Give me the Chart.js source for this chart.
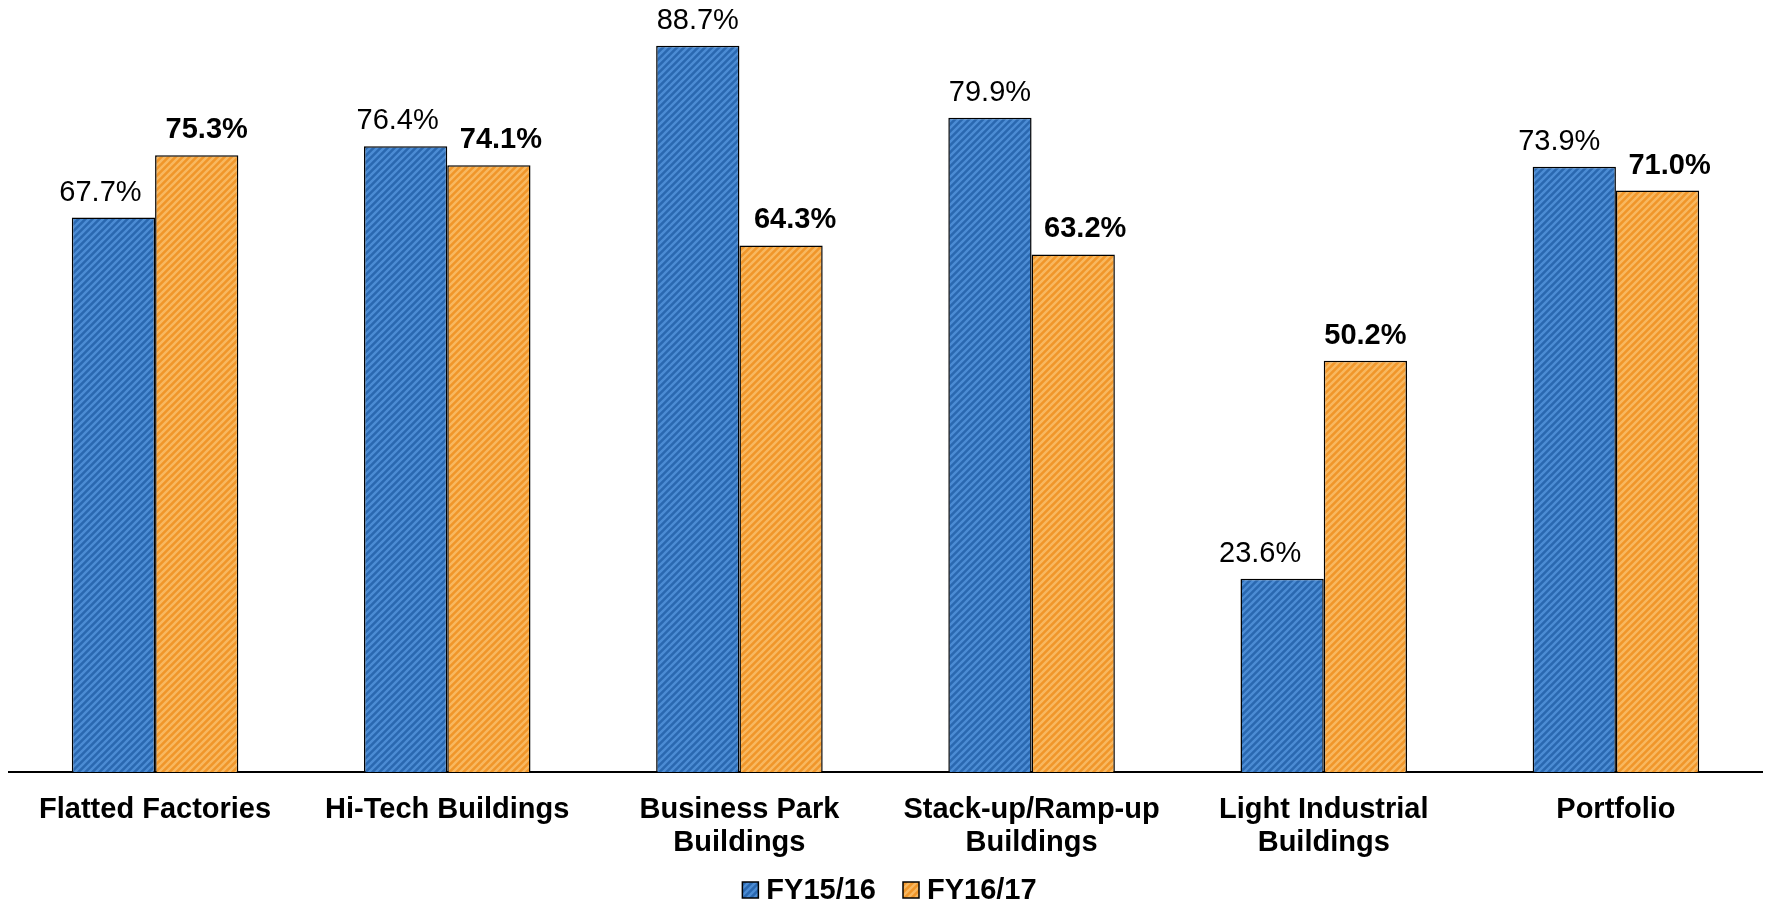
<!DOCTYPE html>
<html>
<head>
<meta charset="utf-8">
<script src="https://cdn.jsdelivr.net/npm/chart.js@4.4.1/dist/chart.umd.min.js"></script>
<style>
  html, body { margin: 0; padding: 0; background: #fff; }
  #wrap { width: 1767px; height: 907px; }
</style>
</head>
<body>
<div id="wrap"><canvas id="myChart"></canvas></div>

<script>
	// categories and values
	var categories = [
	    ["Flatted Factories"],
	    ["Hi-Tech Buildings"],
	    ["Business Park", "Buildings"],
	    ["Stack-up/Ramp-up", "Buildings"],
	    ["Light Industrial", "Buildings"],
	    ["Portfolio"]
	];
	var fy1516 = [67.7, 76.4, 88.7, 79.9, 23.6, 73.9];
	var fy1617 = [75.3, 74.1, 64.3, 63.2, 50.2, 71.0];
	var seriesNames = ["FY15/16", "FY16/17"];

	var FONT = "'Liberation Sans', Arial, sans-serif";

	// the original nudges some value labels sideways (px)
	var labelShift = [
	    [-13, -8, 0, 0, -22, -15],
	    [10, 12, 14, 12, 0, 12]
	];

	// diagonal striped fill like the original
	function stripes(base, line) {
	    var s = 7;
	    var c = document.createElement('canvas');
	    c.width = s; c.height = s;
	    var g = c.getContext('2d');
	    g.fillStyle = base;
	    g.fillRect(0, 0, s, s);
	    g.strokeStyle = line;
	    g.lineWidth = 2.4;
	    g.beginPath();
	    g.moveTo(0, s); g.lineTo(s, 0);
	    g.moveTo(-s / 2, s / 2); g.lineTo(s / 2, -s / 2);
	    g.moveTo(s / 2, s * 1.5); g.lineTo(s * 1.5, s / 2);
	    g.stroke();
	    return g.createPattern(c, 'repeat');
	}

	var blueFill = stripes('#2A68B0', '#4C8CD4');
	var orangeFill = stripes('#F0962A', '#F8B860');

	// value labels above the bars
	var valueLabels = {
	    id: 'valueLabels',
	    afterDatasetsDraw: function (chart) {
	        var ctx = chart.ctx;
	        ctx.save();
	        ctx.fillStyle = '#000';
	        ctx.textAlign = 'center';
	        ctx.textBaseline = 'middle';
	        chart.data.datasets.forEach(function (ds, i) {
	            ctx.font = (i === 1 ? 'bold ' : '') + '29px ' + FONT;
	            chart.getDatasetMeta(i).data.forEach(function (bar, j) {
	                ctx.fillText(ds.data[j].toFixed(1) + '%', bar.x + labelShift[i][j], bar.y - 25);
	            });
	        });
	        ctx.restore();
	    }
	};

	// small legend under the category labels
	var bottomLegend = {
	    id: 'bottomLegend',
	    afterDraw: function (chart) {
	        var ctx = chart.ctx;
	        var box = 16, gap = 8, between = 27, y = 890;
	        ctx.save();
	        ctx.font = 'bold 29px ' + FONT;
	        ctx.textBaseline = 'middle';
	        var ds = chart.data.datasets;
	        var total = 0;
	        ds.forEach(function (d, i) {
	            total += box + gap + ctx.measureText(d.label).width + (i ? between : 0);
	        });
	        var x = (chart.chartArea.left + chart.chartArea.right) / 2 - total / 2 + 4;
	        ds.forEach(function (d) {
	            ctx.fillStyle = d.backgroundColor;
	            ctx.fillRect(x, y - box / 2, box, box);
	            ctx.strokeStyle = '#000';
	            ctx.lineWidth = 1.5;
	            ctx.strokeRect(x, y - box / 2, box, box);
	            x += box + gap;
	            ctx.fillStyle = '#000';
	            ctx.fillText(d.label, x, y + 1);
	            x += ctx.measureText(d.label).width + between;
	        });
	        ctx.restore();
	    }
	};

	var ctx = document.getElementById('myChart').getContext('2d');
	var chart = new Chart(ctx, {
	    type: 'bar',
	    data: {
	        labels: categories,
	        datasets: [{
	            label: seriesNames[0],
	            data: fy1516,
	            backgroundColor: blueFill,
	            borderColor: '#000',
	            borderWidth: 1.5
	        }, {
	            label: seriesNames[1],
	            data: fy1617,
	            backgroundColor: orangeFill,
	            borderColor: '#000',
	            borderWidth: 1.5
	        }]
	    },
	    options: {
	        responsive: true,
	        maintainAspectRatio: false,
	        animation: false,
	        layout: { padding: { top: 35, left: 9, right: 5, bottom: 25 } },
	        datasets: { bar: { categoryPercentage: 0.57, barPercentage: 1.0 } },
	        scales: {
	            x: {
	                grid: { display: false, drawTicks: false },
	                border: { display: true, color: '#000', width: 2 },
	                ticks: {
	                    color: '#000',
	                    padding: 22,
	                    maxRotation: 0,
	                    autoSkip: false,
	                    font: { family: FONT, size: 29, weight: 'bold', lineHeight: 1.14 }
	                }
	            },
	            y: {
	                display: false,
	                min: 0,
	                max: 90
	            }
	        },
	        plugins: {
	            tooltip: { enabled: false },
	            legend: { display: false }
	        }
	    },
	    plugins: [valueLabels, bottomLegend]
	});
</script>
</body>
</html>
